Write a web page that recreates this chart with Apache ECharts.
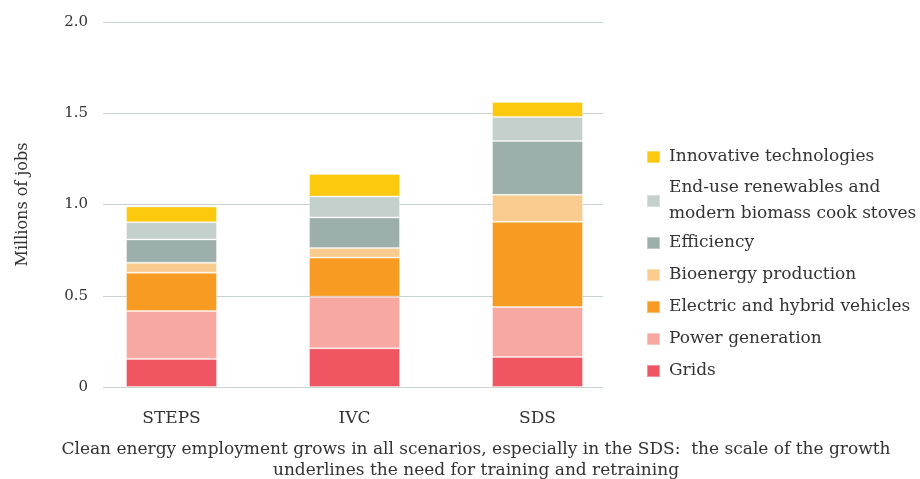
<!DOCTYPE html>
<html>
<head>
<meta charset="utf-8">
<script src="https://cdn.jsdelivr.net/npm/echarts@6/dist/echarts.min.js"></script>
<style>html,body{margin:0;padding:0;background:#fff}#c{width:920px;height:479px}</style>
</head>
<body>
<div id="c"></div>
<script>
const categories = ['STEPS', 'IVC', 'SDS'];
const grids      = [0.154, 0.212, 0.165];
const powerGen   = [0.262, 0.283, 0.273];
const vehicles   = [0.210, 0.214, 0.467];
const bioenergy  = [0.055, 0.053, 0.148];
const efficiency = [0.127, 0.167, 0.295];
const endUse     = [0.095, 0.115, 0.132];
const innovative = [0.086, 0.123, 0.082];
const yTickValues = [0, 0.5, 1.0, 1.5, 2.0];
const yTickLabels = ['0', '0.5', '1.0', '1.5', '2.0'];

const names = {
  innov: 'Innovative technologies',
  end: 'End-use renewables and\nmodern biomass cook stoves',
  eff: 'Efficiency',
  bio: 'Bioenergy production',
  ev: 'Electric and hybrid vehicles',
  pow: 'Power generation',
  grid: 'Grids'
};
const FONT = 'DejaVu Serif';
const TXT = '#333333';

function bar(name, data, color) {
  return {
    name: name, type: 'bar', stack: 'jobs', data: data,
    xAxisIndex: 1, yAxisIndex: 1, barWidth: 91,
    itemStyle: { color: color, borderColor: 'rgba(255,255,255,0.35)', borderWidth: 1 },
    emphasis: { disabled: true }
  };
}

const legendBase = {
  orient: 'vertical', left: 641, itemWidth: 13, itemHeight: 12, itemGap: 6,
  icon: 'rect', selectedMode: false,
  textStyle: { fontFamily: FONT, fontSize: 17, color: TXT, lineHeight: 26, padding: [0, 0, 0, 4] }
};

const option = {
  animation: false,
  grid: [
    { left: 103, top: 22, width: 500, height: 365 },
    { left: 80, top: 22, width: 549, height: 365 }
  ],
  xAxis: [
    { gridIndex: 0, type: 'category', data: categories, show: false },
    { gridIndex: 1, type: 'category', data: categories,
      axisLine: { show: false }, axisTick: { show: false },
      axisLabel: { fontFamily: FONT, fontSize: 17, color: TXT, margin: 23 } }
  ],
  yAxis: [
    { gridIndex: 0, type: 'value', min: 0, max: 2, interval: 0.5,
      name: 'Millions of jobs', nameLocation: 'middle', nameGap: 72,
      nameTextStyle: { fontFamily: FONT, fontSize: 16, color: TXT },
      axisLine: { show: false }, axisTick: { show: false },
      splitLine: { lineStyle: { color: '#C8D2CF', width: 1 } },
      axisLabel: { fontFamily: FONT, fontSize: 15, color: TXT, margin: 15,
        formatter: function (v) { const i = yTickValues.indexOf(v); return i >= 0 ? yTickLabels[i] : ''; } } },
    { gridIndex: 1, type: 'value', min: 0, max: 2, interval: 0.5, show: false, splitLine: { show: false } }
  ],
  legend: [
    Object.assign({}, legendBase, { top: 139, data: [names.innov] }),
    Object.assign({}, legendBase, { top: 170, data: [{ name: names.end }] }),
    Object.assign({}, legendBase, { top: 225, data: [names.eff, names.bio, names.ev, names.pow, names.grid] })
  ],
  title: {
    text: 'Clean energy employment grows in all scenarios, especially in the SDS:  the scale of the growth\nunderlines the need for training and retraining',
    left: 471, top: 434, textAlign: 'center',
    textStyle: { fontFamily: FONT, fontSize: 17, fontWeight: 'normal', color: TXT, lineHeight: 21 }
  },
  series: [
    bar(names.grid, grids, '#F05562'),
    bar(names.pow, powerGen, '#F7A8A0'),
    bar(names.ev, vehicles, '#F89B22'),
    bar(names.bio, bioenergy, '#FACB8F'),
    bar(names.eff, efficiency, '#9DAFAA'),
    bar(names.end, endUse, '#C4D0CC'),
    bar(names.innov, innovative, '#FDC90F')
  ]
};
const chart = echarts.init(document.getElementById('c'));
chart.setOption(option);
</script>
</body>
</html>
